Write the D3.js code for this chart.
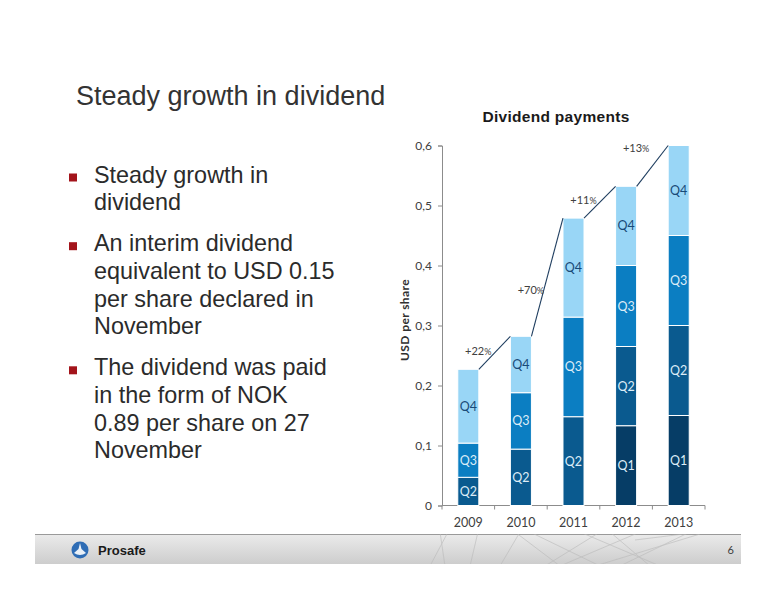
<!DOCTYPE html>
<html>
<head>
<meta charset="utf-8">
<script src="https://cdn.jsdelivr.net/npm/d3@7"></script>
<style>
  html, body { margin: 0; padding: 0; background: #ffffff; }
  svg { display: block; }
</style>
</head>
<body>
<svg id="chart" width="776" height="600"></svg>
<script>
// ---------- data ----------
const years = ["2009", "2010", "2011", "2012", "2013"];
const quarters = ["Q1", "Q2", "Q3", "Q4"];
const q1Values = [0, 0, 0, 0.133, 0.15];
const q2Values = [0.047, 0.094, 0.148, 0.132, 0.15];
const q3Values = [0.057, 0.094, 0.166, 0.135, 0.15];
const q4Values = [0.123, 0.094, 0.165, 0.132, 0.15];
const growthLabels = ["+22", "+70", "+11", "+13"];
const yTickValues = [0, 0.1, 0.2, 0.3, 0.4, 0.5, 0.6];
const yTickLabels = ["0", "0,1", "0,2", "0,3", "0,4", "0,5", "0,6"];
const slideTitle = "Steady growth in dividend";
const chartTitle = "Dividend payments";
const yAxisTitle = "USD per share";
const bullets = [
  ["Steady growth in", "dividend"],
  ["An interim dividend", "equivalent to USD 0.15", "per share declared in", "November"],
  ["The dividend was paid", "in the form of NOK", "0.89 per share on 27", "November"]
];
const pageNumber = "6";
const companyName = "Prosafe";

// ---------- layout / style ----------
const colors = { Q1: "#063d66", Q2: "#0a5a8f", Q3: "#0b7ec2", Q4: "#99d6f6" };
const labelColors = { Q1: "#dcecf7", Q2: "#dcecf7", Q3: "#dcecf7", Q4: "#184a78" };
const growthDy = [-2, 13, -2, -18];

const svg = d3.select("#chart");

// slide title
svg.append("text").attr("x", 76).attr("y", 105)
  .attr("font-family", "Liberation Sans, Arial, sans-serif")
  .attr("font-size", 27).attr("fill", "#333333").text(slideTitle);

// bullets
let by = 182.5;
const lineH = 27.7, paraGap = 13.3;
bullets.forEach(lines => {
  svg.append("rect").attr("x", 69).attr("y", by - 9).attr("width", 8).attr("height", 8)
    .attr("fill", "#a3141b");
  lines.forEach((ln, i) => {
    svg.append("text").attr("x", 94).attr("y", by + i * lineH)
      .attr("font-family", "Liberation Sans, Arial, sans-serif")
      .attr("font-size", 23.4).attr("fill", "#2b2b2b").text(ln);
  });
  by += lines.length * lineH + paraGap;
});

// chart title
svg.append("text").attr("x", 556).attr("y", 122).attr("text-anchor", "middle")
  .attr("font-family", "Liberation Sans, Arial, sans-serif")
  .attr("font-weight", "bold").attr("font-size", 15.5).attr("fill", "#1a1a1a")
  .attr("letter-spacing", 0.3).text(chartTitle);

// scales
const x = d3.scaleBand().domain(years).range([442, 705]).paddingInner(0.6).paddingOuter(0.3);
const y = d3.scaleLinear().domain([0, 0.6]).range([505.5, 145.5]);

// stacked data
const table = years.map((yr, i) => ({ year: yr, Q1: q1Values[i], Q2: q2Values[i], Q3: q3Values[i], Q4: q4Values[i] }));
const stacked = d3.stack().keys(quarters)(table);

// y axis
const yAxis = d3.axisLeft(y).tickValues(yTickValues).tickSize(4).tickPadding(6)
  .tickFormat((d, i) => yTickLabels[i]);
const gy = svg.append("g").attr("transform", "translate(442,0)").call(yAxis);
gy.select(".domain").attr("stroke", "#8c8c8c");
gy.selectAll(".tick line").attr("stroke", "#8c8c8c");
gy.selectAll(".tick text").attr("font-family", "Lato, sans-serif").attr("font-size", 12).attr("fill", "#404040");

// y axis title
svg.append("text").attr("transform", "translate(409,320) rotate(-90)")
  .attr("text-anchor", "middle").attr("font-family", "Lato, sans-serif")
  .attr("font-weight", "bold").attr("font-size", 12).attr("fill", "#303030")
  .attr("letter-spacing", 0.4).text(yAxisTitle);

// x axis
const gx = svg.append("g");
gx.append("line").attr("x1", 442).attr("x2", 705).attr("y1", y(0)).attr("y2", y(0)).attr("stroke", "#8c8c8c");
const step = x.step();
const bounds = d3.range(years.length + 1).map(i => x.range()[0] + i * step);
gx.selectAll("line.tk").data(bounds).join("line").attr("class", "tk")
  .attr("x1", d => d).attr("x2", d => d).attr("y1", y(0)).attr("y2", y(0) + 4).attr("stroke", "#8c8c8c");
gx.selectAll("text").data(years).join("text")
  .attr("x", d => x(d) + x.bandwidth() / 2).attr("y", 527).attr("text-anchor", "middle")
  .attr("font-family", "Lato, sans-serif").attr("font-size", 12.5).attr("fill", "#404040").text(d => d);

// bars
stacked.forEach(layer => {
  const key = layer.key;
  const g = svg.append("g");
  layer.forEach((d, i) => {
    if (d[1] - d[0] <= 0) return;
    g.append("rect").attr("x", x(years[i])).attr("width", x.bandwidth())
      .attr("y", y(d[1])).attr("height", y(d[0]) - y(d[1]))
      .attr("fill", colors[key]).attr("stroke", "#ffffff").attr("stroke-width", 1);
    g.append("text").attr("x", x(years[i]) + x.bandwidth() / 2)
      .attr("y", (y(d[0]) + y(d[1])) / 2 + 4.5).attr("text-anchor", "middle")
      .attr("font-family", "Lato, sans-serif").attr("font-size", 12.5)
      .attr("fill", labelColors[key]).text(key);
  });
});

// growth connectors
const totals = years.map((yr, i) => q1Values[i] + q2Values[i] + q3Values[i] + q4Values[i]);
growthLabels.forEach((lab, i) => {
  const x1 = x(years[i]) + x.bandwidth(), x2 = x(years[i + 1]);
  svg.append("line").attr("x1", x1).attr("y1", y(totals[i])).attr("x2", x2).attr("y2", y(totals[i + 1]))
    .attr("stroke", "#1d3c5e").attr("stroke-width", 1.1);
  const t = svg.append("text").attr("x", x(years[i]) + x.bandwidth() / 2 + 10)
    .attr("y", y((totals[i] + totals[i + 1]) / 2) + growthDy[i] + 4)
    .attr("text-anchor", "middle").attr("font-family", "Lato, sans-serif")
    .attr("font-size", 11).attr("fill", "#404040");
  t.append("tspan").text(lab);
  t.append("tspan").attr("font-size", 9).text("%");
});

// footer
const defs = svg.append("defs");
const grad = defs.append("linearGradient").attr("id", "fg").attr("x1", 0).attr("y1", 0).attr("x2", 0).attr("y2", 1);
grad.append("stop").attr("offset", 0).attr("stop-color", "#ebebeb");
grad.append("stop").attr("offset", 1).attr("stop-color", "#cdcdcd");
defs.append("clipPath").attr("id", "fclip").append("rect").attr("x", 35).attr("y", 534).attr("width", 706).attr("height", 30);
svg.append("rect").attr("x", 35).attr("y", 534).attr("width", 706).attr("height", 30).attr("fill", "url(#fg)");
svg.append("line").attr("x1", 35).attr("x2", 741).attr("y1", 534.5).attr("y2", 534.5).attr("stroke", "#9a9a9a");
const deco = svg.append("g").attr("clip-path", "url(#fclip)").attr("stroke", "#b8b8b8").attr("stroke-width", 0.8).attr("opacity", 0.7).attr("fill", "none");
[[430,566,448,532],[445,566,440,532],[478,532,470,566],[500,566,520,532],[515,532,560,566],[530,532,600,566],[545,566,600,532],[560,566,640,532],[580,532,660,566],[595,566,700,534],[610,532,650,566],[620,566,690,532],[635,540,700,532]]
  .forEach(p => deco.append("line").attr("x1", p[0]).attr("y1", p[1]).attr("x2", p[2]).attr("y2", p[3]));
// logo
svg.append("circle").attr("cx", 80).attr("cy", 550).attr("r", 8.5).attr("fill", "#2f6db5");
svg.append("path").attr("d", "M80,543 L81.5,549 L86,553 Q80,557 74,553 L78.5,549 Z").attr("fill", "#ffffff").attr("opacity", 0.9);
svg.append("text").attr("x", 98).attr("y", 554.5).attr("font-family", "Liberation Sans, Arial, sans-serif")
  .attr("font-weight", "bold").attr("font-size", 13).attr("fill", "#1a1a1a").text(companyName);
svg.append("text").attr("x", 734).attr("y", 554).attr("text-anchor", "end").attr("font-family", "Lato, sans-serif")
  .attr("font-size", 11).attr("fill", "#404040").text(pageNumber);
</script>
</body>
</html>
